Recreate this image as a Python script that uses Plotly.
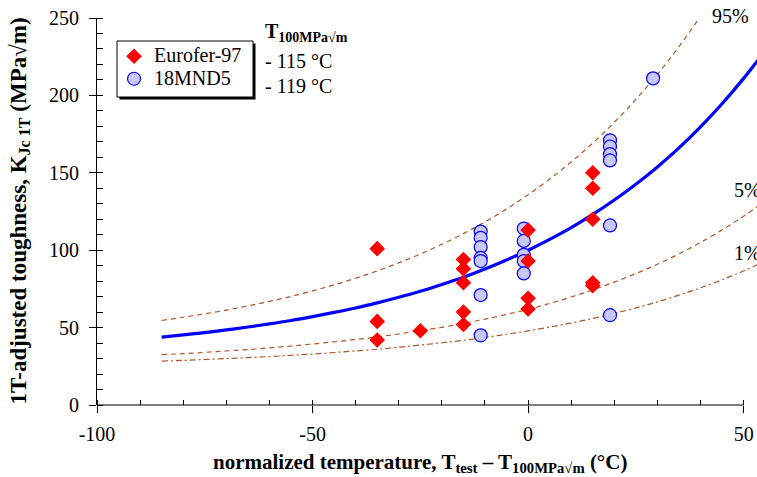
import plotly.graph_objects as go

# ---------------- data ----------------
eu_T = [-35, -35, -35, -25, -15, -15, -15, -15, -15, 0, 0, 0, 0, 15, 15, 15, 15, 15]
eu_K = [101, 54, 42, 48, 94, 88, 79, 60, 52, 113, 93, 69, 62, 150, 140, 120, 79, 77]

mn_T = [-11, -11, -11, -11, -11, -11, -11, -1, -1, -1, -1, -1, 19, 19, 19, 19, 19, 19, 29]
mn_K = [112, 108, 102, 95, 93, 71, 45, 114, 106, 97, 93, 85, 171, 167, 162, 158, 116, 58, 211]

curve_T = [-85, -80, -75, -70, -65, -60, -55, -50, -45, -40, -35, -30, -25, -20, -15,
           -10, -5, 0, 5, 10, 15, 20, 25, 30, 35, 40, 45, 50, 55]
median_K = [43.9, 45.3, 46.8, 48.5, 50.4, 52.4, 54.6, 57.1, 59.8, 62.7, 66.0, 69.6, 73.5,
            77.9, 82.6, 87.9, 93.7, 100.0, 107.0, 114.6, 123.1, 132.4, 142.6, 153.8,
            166.1, 179.7, 194.6, 211.0, 229.0]
p05_K = [32.5, 33.2, 34.0, 34.9, 35.8, 36.9, 38.1, 39.4, 40.8, 42.3, 44.0, 45.9, 48.0,
         50.2, 52.7, 55.5, 58.5, 61.8, 65.6, 69.8, 74.4, 79.4, 84.9, 90.9, 97.6, 105.0,
         113.1, 122.0, 131.8]
p01_K = [28.4, 28.8, 29.4, 30.0, 30.6, 31.3, 32.1, 32.9, 33.9, 34.9, 36.0, 37.3, 38.7,
         40.2, 41.8, 43.7, 45.7, 47.9, 50.3, 53.0, 55.9, 59.2, 62.7, 66.6, 71.0, 75.7,
         80.9, 86.6, 92.9]
p95_T = [-85, -80, -75, -70, -65, -60, -55, -50, -45, -40, -35, -30, -25, -20, -15,
         -10, -5, 0, 5, 10, 15, 20, 25, 30, 35, 40]
p95_K = [54.6, 56.7, 58.9, 61.3, 64.0, 66.9, 70.1, 73.7, 77.6, 81.9, 86.6, 91.8, 97.5,
         103.8, 110.7, 118.3, 126.6, 135.8, 145.9, 157.0, 169.2, 182.6, 197.4, 213.6,
         231.5, 251.1]

x_ticks = [-100, -50, 0, 50]
x_labels = ["-100", "-50", "0", "50"]
y_ticks = [0, 50, 100, 150, 200, 250]

FONT = "Liberation Serif"
BROWN = "#b0562a"
SPAN = '<span style="font-family:Liberation Serif, serif; font-size:20px">{}</span>'

fig = go.Figure()

fig.add_trace(go.Scatter(x=p95_T, y=p95_K, mode="lines", line=dict(color=BROWN, width=1.2, dash="5px,4px", shape="spline"),
                         showlegend=False, hoverinfo="skip"))
fig.add_trace(go.Scatter(x=curve_T, y=p05_K, mode="lines", line=dict(color=BROWN, width=1.2, dash="5px,4px", shape="spline"),
                         showlegend=False, hoverinfo="skip"))
fig.add_trace(go.Scatter(x=curve_T, y=p01_K, mode="lines", line=dict(color=BROWN, width=1.2, dash="6px,3px,2px,3px", shape="spline"),
                         showlegend=False, hoverinfo="skip"))
fig.add_trace(go.Scatter(x=curve_T, y=median_K, mode="lines", line=dict(color="#0000ff", width=3.2, shape="spline"),
                         showlegend=False, hoverinfo="skip"))

fig.add_trace(go.Scatter(x=mn_T, y=mn_K, mode="markers",
                         name=SPAN.format("18MND5"), legendrank=2,
                         marker=dict(symbol="circle", size=13, color="#c8c8fa",
                                     line=dict(color="#0000ff", width=1.2))))
fig.add_trace(go.Scatter(x=eu_T, y=eu_K, mode="markers",
                         name=SPAN.format("Eurofer-97"), legendrank=1,
                         marker=dict(symbol="diamond", size=12, color="#ff0000",
                                     line=dict(width=0))))

# dummy trace for overlay axes (inside major ticks)
fig.add_trace(go.Scatter(x=[None], y=[None], xaxis="x2", yaxis="y2", showlegend=False, hoverinfo="skip"))

XR = [-100, 53.1]
YR = [0, 250]

fig.update_layout(
    width=757, height=477,
    margin=dict(l=97, r=0, t=18, b=72),
    paper_bgcolor="white", plot_bgcolor="white",
    font=dict(family=FONT, size=20, color="black"),
    showlegend=True,
    legend=dict(x=(117 - 97) / 660, y=(405 - 40) / 387, xanchor="left", yanchor="top",
                bgcolor="rgba(0,0,0,0)", borderwidth=0,
                font=dict(family=FONT, size=15), indentation=-3,
                itemwidth=30, tracegroupgap=0),
    xaxis=dict(range=XR, showgrid=False, zeroline=False, showline=False,
               tickmode="array", tickvals=x_ticks, ticktext=x_labels, ticks="outside", ticklen=7, tickwidth=1,
               tickcolor="black", minor=dict(dtick=10, ticks="inside", ticklen=5, tickcolor="black"),
               tickfont=dict(family=FONT, size=20), ticklabelstandoff=4),
    yaxis=dict(range=YR, showgrid=False, zeroline=False, showline=True, linecolor="black", linewidth=1,
               tickmode="array", tickvals=y_ticks, ticks="outside", ticklen=7, tickwidth=1,
               tickcolor="black", minor=dict(dtick=10, ticks="inside", ticklen=6, tickcolor="black"),
               tickfont=dict(family=FONT, size=20), ticklabelstandoff=6),
    xaxis2=dict(range=XR, overlaying="x", anchor="y", side="bottom", showgrid=False, zeroline=False,
                showline=False, tickmode="array", tickvals=x_ticks, ticks="inside", ticklen=5,
                tickcolor="black", showticklabels=False),
    yaxis2=dict(range=YR, overlaying="y", anchor="x", side="left", showgrid=False, zeroline=False,
                showline=False, tickmode="array", tickvals=y_ticks, ticks="inside", ticklen=6,
                tickcolor="black", showticklabels=False),
)

def px(xp):
    return (xp - 97) / 660

def py(yp):
    return (405 - yp) / 387

# x-axis line ending at 50
fig.add_shape(type="line", xref="x", yref="paper", x0=-100, x1=50, y0=0, y1=0,
              line=dict(color="black", width=1))
# legend box with drop shadow
fig.add_shape(type="rect", xref="paper", yref="paper",
              x0=px(119.5), x1=px(255.5), y0=py(99.5), y1=py(43.5),
              fillcolor="black", line=dict(width=0), layer="above")
fig.add_shape(type="rect", xref="paper", yref="paper",
              x0=px(117), x1=px(253), y0=py(97), y1=py(41),
              fillcolor="white", line=dict(color="black", width=1), layer="above")

# axis titles
fig.add_annotation(text="<b>normalized temperature, T<sub>test</sub> – T<sub>100MPa√m</sub> (°C)</b>",
                   xref="x", yref="paper", x=-25, y=-0.15, xanchor="center", yanchor="middle",
                   showarrow=False, font=dict(family=FONT, size=21, color="black"))
fig.add_annotation(text="<b>1T-adjusted toughness, K<sub>Jc 1T</sub> (MPa√m)</b>",
                   xref="paper", yref="paper", x=px(19), y=0.5, xanchor="center", yanchor="middle",
                   textangle=-90, showarrow=False, font=dict(family=FONT, size=23, color="black"))

ann = [
    ("<b>T<sub>100MPa√m</sub></b>", 0.9638),
    ("- 115 °C", 0.889),
    ("- 119 °C", 0.8243),
]
for txt, yy in ann:
    fig.add_annotation(text=txt, xref="paper", yref="paper", x=px(263), y=yy,
                       xanchor="left", yanchor="middle", showarrow=False,
                       font=dict(family=FONT, size=20, color="black"))

fig.add_annotation(text="95%", xref="x", yref="paper", x=42.3, y=py(16), xanchor="left",
                   yanchor="middle", showarrow=False, font=dict(family=FONT, size=20, color="black"))
for txt, xx, yy in [("5%", 47.4, 139), ("1%", 47.4, 98)]:
    fig.add_annotation(text=txt, xref="x", yref="y", x=xx, y=yy, xanchor="left", yanchor="middle",
                       showarrow=False, font=dict(family=FONT, size=20, color="black"))

fig.write_html("out.html")
